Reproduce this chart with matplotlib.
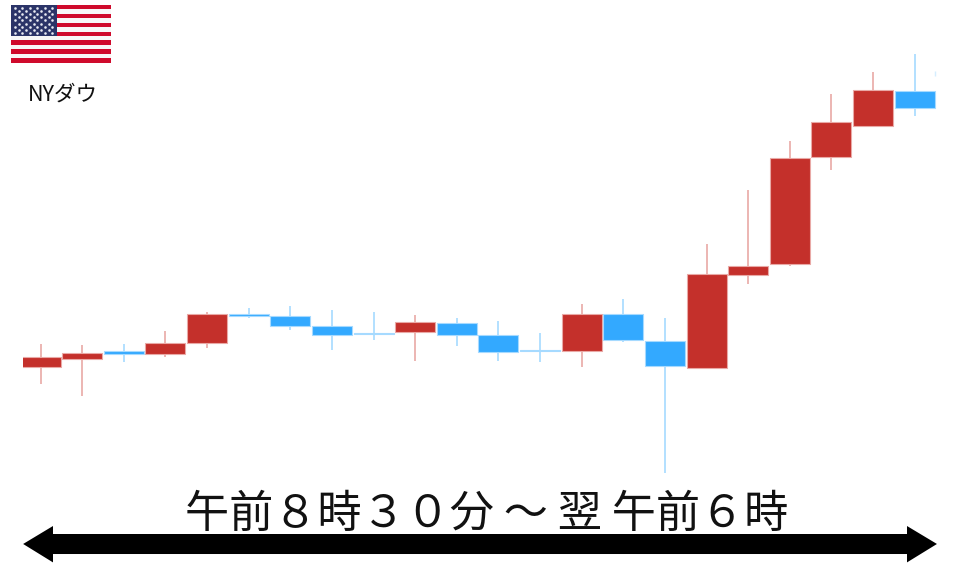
import matplotlib
matplotlib.use('Agg')
import matplotlib.pyplot as plt
from matplotlib.patches import Polygon, Rectangle
from matplotlib.transforms import Bbox

plt.rcParams['font.family'] = ['Noto Sans CJK JP', 'DejaVu Sans']

# 読み取り値（縦軸は目盛なしの相対値）
open_vals = [200, 207.7, 216, 213.3, 224, 253, 251.3, 240.7, 234, 234.7, 244.3,
             232.3, 217, 216.3, 252.7, 226, 199, 292, 303.3, 409.7, 440.7, 476]
high_vals = [223, 222, 223, 236, 255, 259, 261, 257, 254.7, 252, 249,
             246.3, 234, 262.7, 267.7, 249, 322.7, 377, 426, 473, 495.3, 513]
low_vals = [183, 171, 205, 209.7, 219, 249, 237, 217, 227, 206.3, 221,
            206.3, 205, 200.3, 225.3, 94, 199, 283, 301.3, 396.7, 440.7, 451]
close_vals = [209.7, 213.7, 213.3, 223.7, 252.7, 251.5, 241, 232, 233, 244.7, 232.3,
              215.3, 216, 253.3, 227.3, 201, 292.7, 301, 409.3, 445, 476.7, 458.7]

label_title = 'NYダウ'
label_range = '午前８時３０分 ～ 翌 午前６時'

RED = '#C4302B'
BLUE = '#33A9FF'
RED_EDGE = '#E9A9A6'
BLUE_EDGE = '#A6DAFF'

fig = plt.figure(figsize=(9.6, 5.67), dpi=100)

# ローソク足の軸
ax = fig.add_axes([0, 0, 1, 1])
ax.set_xlim(-0.975, 22.09)
ax.set_ylim(0, 567)
ax.axis('off')

for i in range(len(open_vals)):
    up = close_vals[i] >= open_vals[i]
    face = RED if up else BLUE
    edge = RED_EDGE if up else BLUE_EDGE
    ax.vlines(i, low_vals[i], high_vals[i], color=edge, lw=1.2, zorder=1)
    bottom = min(open_vals[i], close_vals[i])
    height = abs(close_vals[i] - open_vals[i])
    bars = ax.bar(i, height, bottom=bottom, width=0.96, color=face, edgecolor=edge, lw=0.8, zorder=2)
    if i == 0:
        # 左端の足は少し切れている
        bars[0].set_clip_box(Bbox([[23, 0], [960, 567]]))

# 右端で切れている足
ax.vlines(21.5, 491, 496, color='#D5EEFF', lw=1.0)

# 下の両矢印
ax.add_patch(Polygon([(0.0241, 0.0406), (0.0552, 0.0081), (0.0552, 0.0229), (0.9448, 0.0229),
                      (0.9448, 0.0081), (0.976, 0.0406), (0.9448, 0.0723), (0.9448, 0.0582),
                      (0.0552, 0.0582), (0.0552, 0.0723)],
                     closed=True, transform=ax.transAxes, fc='black', ec='none', zorder=3))

ax.text(487 / 960, 1 - 514 / 567, label_range, transform=ax.transAxes,
        ha='center', va='center', fontsize=31.8, color='#111111', zorder=4)
ax.text(62.5 / 960, 1 - 94.5 / 567, label_title, transform=ax.transAxes,
        ha='center', va='center', fontsize=15.5, color='#111111')

# 星条旗
flag = fig.add_axes([11 / 960, 1 - 62.5 / 567, 99.5 / 960, 57.5 / 567])
flag.set_xlim(0, 1)
flag.set_ylim(13, 0)
flag.axis('off')
for s in range(13):
    flag.add_patch(Rectangle((0, s), 1, 1, fc='#CF0A2C' if s % 2 == 0 else '#F7F7F7', ec='none'))
flag.add_patch(Rectangle((0, 0), 0.46, 7, fc='#2B3468', ec='none'))
star_x = []
star_y = []
for row in range(9):
    n = 6 if row % 2 == 0 else 5
    off = 0.04 if row % 2 == 0 else 0.077
    for c in range(n):
        star_x.append(off + c * 0.075)
        star_y.append(0.7 + row * 0.7)
flag.scatter(star_x, star_y, s=3.5, color='#E8EAF2', linewidths=0, zorder=3)

fig.savefig('out.png', dpi=100)
